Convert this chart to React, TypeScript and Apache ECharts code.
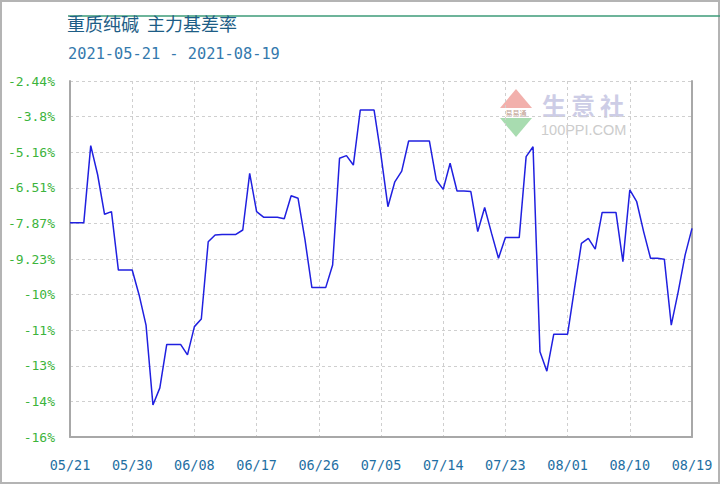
import React, { useEffect, useRef } from "react";
import * as echarts from "echarts";

const dates: string[] = [
  "05/21", "05/22", "05/23", "05/24", "05/25", "05/26", "05/27", "05/28", "05/29", "05/30", "05/31",
  "06/01", "06/02", "06/03", "06/04", "06/05", "06/06", "06/07", "06/08", "06/09", "06/10",
  "06/11", "06/12", "06/13", "06/14", "06/15", "06/16", "06/17", "06/18", "06/19", "06/20",
  "06/21", "06/22", "06/23", "06/24", "06/25", "06/26", "06/27", "06/28", "06/29", "06/30",
  "07/01", "07/02", "07/03", "07/04", "07/05", "07/06", "07/07", "07/08", "07/09", "07/10",
  "07/11", "07/12", "07/13", "07/14", "07/15", "07/16", "07/17", "07/18", "07/19", "07/20",
  "07/21", "07/22", "07/23", "07/24", "07/25", "07/26", "07/27", "07/28", "07/29", "07/30", "07/31",
  "08/01", "08/02", "08/03", "08/04", "08/05", "08/06", "08/07", "08/08", "08/09", "08/10",
  "08/11", "08/12", "08/13", "08/14", "08/15", "08/16", "08/17", "08/18", "08/19",
];

const basisRate: number[] = [
  -7.85, -7.85, -7.85, -4.91, -6.02, -7.53, -7.43, -9.66, -9.66, -9.66,
  -10.61, -11.76, -14.81, -14.16, -12.5, -12.5, -12.5, -12.9, -11.82, -11.53,
  -8.58, -8.32, -8.3, -8.3, -8.3, -8.13, -5.97, -7.43, -7.64, -7.64,
  -7.64, -7.7, -6.82, -6.92, -8.5, -10.33, -10.33, -10.33, -9.47, -5.39,
  -5.29, -5.65, -3.55, -3.55, -3.55, -5.28, -7.24, -6.29, -5.88, -4.73,
  -4.73, -4.73, -4.73, -6.22, -6.58, -5.58, -6.64, -6.64, -6.66, -8.19,
  -7.27, -8.26, -9.21, -8.42, -8.42, -8.42, -5.33, -4.95, -12.78, -13.52,
  -12.11, -12.11, -12.11, -10.36, -8.64, -8.45, -8.86, -7.46, -7.46, -7.46,
  -9.34, -6.6, -7.05, -8.19, -9.21, -9.21, -9.25, -11.76, -10.49, -9.09,
  -8.07,
];

const yTickValues: number[] = [
  -16.035, -14.6755, -13.316, -11.9565, -10.597, -9.2375, -7.878, -6.5185, -5.159, -3.7995, -2.44,
];
const yTickLabels: string[] = [
  "-16%", "-14%", "-13%", "-11%", "-10%", "-9.23%", "-7.87%", "-6.51%", "-5.16%", "-3.8%", "-2.44%",
];

const titleText = "重质纯碱  主力基差率";
const subtitleText = "2021-05-21 - 2021-08-19";

const MONO = "'DejaVu Sans Mono', 'Liberation Mono', monospace";

export default function App() {
  const ref = useRef<HTMLDivElement>(null);

  useEffect(() => {
    if (!ref.current) return;
    const chart = echarts.init(ref.current, undefined, { renderer: "svg" });
    const yMin = yTickValues[0];
    const yMax = yTickValues[yTickValues.length - 1];
    const labelFor = (v: number) => {
      let best = 0;
      for (let i = 1; i < yTickValues.length; i++) {
        if (Math.abs(yTickValues[i] - v) < Math.abs(yTickValues[best] - v)) best = i;
      }
      return yTickLabels[best];
    };
    const wmFont = "bold 24px 'Noto Sans CJK SC', sans-serif";
    chart.setOption({
      animation: false,
      backgroundColor: "#ffffff",
      grid: { left: 70, right: 28, top: 81, bottom: 47, containLabel: false },
      graphic: [
        {
          type: "rect",
          shape: { x: 1, y: 1, width: 718, height: 482 },
          style: { fill: "none", stroke: "#b4b4b4", lineWidth: 2 },
          silent: true,
        },
        {
          type: "line",
          shape: { x1: 68, y1: 16, x2: 720, y2: 16 },
          style: { stroke: "#3d9b78", lineWidth: 1.5 },
          silent: true,
        },
        {
          type: "text",
          left: 67,
          top: 14,
          style: {
            text: titleText,
            fill: "#1d5d86",
            font: "18px 'Noto Sans CJK SC', sans-serif",
          },
        },
        {
          type: "text",
          left: 68,
          top: 46,
          style: {
            text: subtitleText,
            fill: "#3479ad",
            font: "15.3px " + MONO,
          },
        },
        // watermark logo
        {
          type: "polygon",
          shape: { points: [[516, 89], [532, 108], [500, 108]] },
          style: { fill: "#f2b0ac" },
          silent: true,
        },
        {
          type: "text",
          x: 516,
          y: 113,
          style: {
            text: "易易通",
            fill: "#c0a090",
            font: "7px 'Noto Sans CJK SC', sans-serif",
            align: "center",
            verticalAlign: "middle",
          },
          silent: true,
        },
        {
          type: "polygon",
          shape: { points: [[500, 118], [532, 118], [516, 137]] },
          style: { fill: "#a8dcb0" },
          silent: true,
        },
        {
          type: "text",
          x: 542,
          y: 104,
          style: { text: "生", fill: "#cdcde6", font: wmFont, verticalAlign: "middle" },
          silent: true,
        },
        {
          type: "text",
          x: 571,
          y: 104,
          style: { text: "意", fill: "#cdcde6", font: wmFont, verticalAlign: "middle" },
          silent: true,
        },
        {
          type: "text",
          x: 600,
          y: 104,
          style: { text: "社", fill: "#cdcde6", font: wmFont, verticalAlign: "middle" },
          silent: true,
        },
        {
          type: "text",
          x: 541,
          y: 130,
          style: {
            text: "100PPI.COM",
            fill: "#cccccc",
            font: "14.5px 'Liberation Sans', Arial, sans-serif",
            verticalAlign: "middle",
          },
          silent: true,
        },
      ],
      xAxis: {
        type: "category",
        data: dates,
        boundaryGap: false,
        axisLine: { show: true, lineStyle: { color: "#a8a8a8", width: 2 } },
        axisTick: { show: false },
        axisLabel: {
          interval: 8,
          color: "#1f6fa3",
          fontFamily: MONO,
          fontSize: 13.5,
          margin: 21,
          showMinLabel: true,
          showMaxLabel: true,
        },
        splitLine: {
          show: true,
          interval: 8,
          lineStyle: { color: "#cfcfcf", type: [3, 3], width: 1 },
        },
      },
      yAxis: [
        {
          type: "value",
          min: yMin,
          max: yMax,
          axisLine: { show: true, lineStyle: { color: "#a8a8a8", width: 2 } },
          axisTick: { show: false, customValues: yTickValues },
          axisLabel: {
            customValues: yTickValues,
            formatter: (v: number) => labelFor(v),
            color: "#3cb43c",
            fontFamily: MONO,
            fontSize: 13,
            margin: 15,
          },
          splitLine: {
            show: true,
            lineStyle: { color: "#cfcfcf", type: [3, 3], width: 1 },
          },
        },
        {
          type: "value",
          min: yMin,
          max: yMax,
          position: "right",
          axisLine: { show: true, onZero: false, lineStyle: { color: "#a8a8a8", width: 2 } },
          axisTick: { show: false },
          axisLabel: { show: false },
          splitLine: { show: false },
        },
      ],
      series: [
        {
          type: "line",
          data: basisRate,
          yAxisIndex: 0,
          showSymbol: false,
          symbol: "none",
          lineStyle: { color: "#2020e0", width: 1.5 },
        },
      ],
    });
    return () => chart.dispose();
  }, []);

  return (
    <div
      ref={ref}
      style={{ position: "fixed", left: 0, top: 0, width: 720, height: 484 }}
    />
  );
}
